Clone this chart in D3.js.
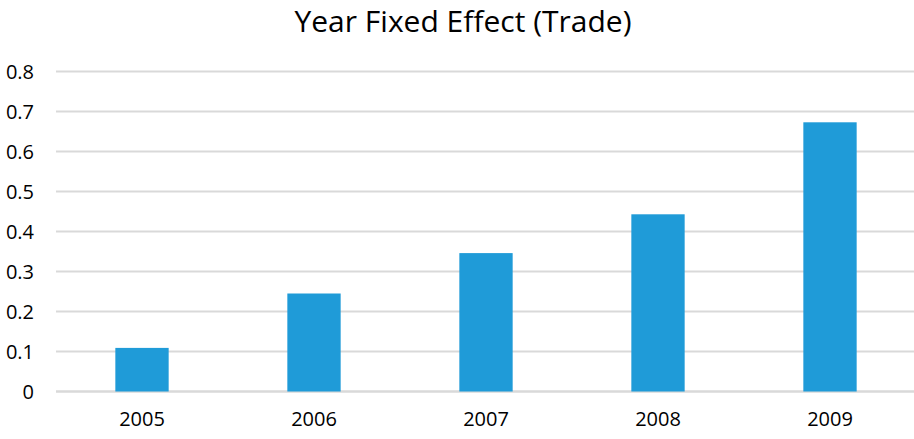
<!DOCTYPE html>
<html>
<head>
<meta charset="utf-8">
<script src="https://cdn.jsdelivr.net/npm/d3@7"></script>
<style>
  html, body { margin: 0; padding: 0; background: #fff; }
  svg { display: block; }
</style>
</head>
<body>
<svg id="chart" width="914" height="439"></svg>
<script>
// Year fixed effects estimated on trade
const years = ["2005", "2006", "2007", "2008", "2009"];
const effects = [0.109, 0.245, 0.346, 0.443, 0.673];
const yTicks = [0, 0.1, 0.2, 0.3, 0.4, 0.5, 0.6, 0.7, 0.8];
const title = "Year Fixed Effect (Trade)";

const W = 914, H = 439;
const margin = { top: 71.5, right: -2, bottom: 47.5, left: 56 };
const font = "'Open Sans', sans-serif";

const svg = d3.select("#chart");

const x = d3.scaleBand()
  .domain(years)
  .range([margin.left, W - margin.right])
  .paddingInner(0.69)
  .paddingOuter(0.345);

const y = d3.scaleLinear()
  .domain([0, 0.8])
  .range([H - margin.bottom, margin.top]);

// Horizontal gridlines
svg.append("g")
  .selectAll("line")
  .data(yTicks)
  .join("line")
  .attr("x1", margin.left)
  .attr("x2", W)
  .attr("y1", d => y(d))
  .attr("y2", d => y(d))
  .attr("stroke", "#d9d9d9")
  .attr("stroke-width", d => d === 0 ? 2.6 : 2);

// Y axis labels
const yAxis = d3.axisLeft(y).tickValues(yTicks).tickSize(0).tickPadding(0)
  .tickFormat(d => d === 0 ? "0" : d3.format(".1f")(d));
svg.append("g")
  .attr("transform", `translate(34,0)`)
  .call(yAxis)
  .call(g => g.select(".domain").remove())
  .call(g => g.selectAll("text")
    .attr("dy", "0.36em")
    .attr("font-family", font)
    .attr("font-size", 20)
    .attr("fill", "#000"));

// Bars
svg.append("g")
  .selectAll("rect")
  .data(years.map((yr, i) => ({ yr, v: effects[i] })))
  .join("rect")
  .attr("x", d => x(d.yr))
  .attr("width", x.bandwidth())
  .attr("y", d => y(d.v))
  .attr("height", d => y(0) - y(d.v))
  .attr("fill", "#1f9bd8");

// X axis labels
const xAxis = d3.axisBottom(x).tickSize(0).tickPadding(0);
svg.append("g")
  .attr("transform", `translate(0,${y(0) + 20})`)
  .call(xAxis)
  .call(g => g.select(".domain").remove())
  .call(g => g.selectAll("text")
    .attr("font-family", font)
    .attr("font-size", 20)
    .attr("fill", "#000"));

// Title
svg.append("text")
  .attr("x", 463)
  .attr("y", 32)
  .attr("text-anchor", "middle")
  .attr("font-family", font)
  .attr("font-size", 30)
  .attr("fill", "#000")
  .text(title);
</script>
</body>
</html>
